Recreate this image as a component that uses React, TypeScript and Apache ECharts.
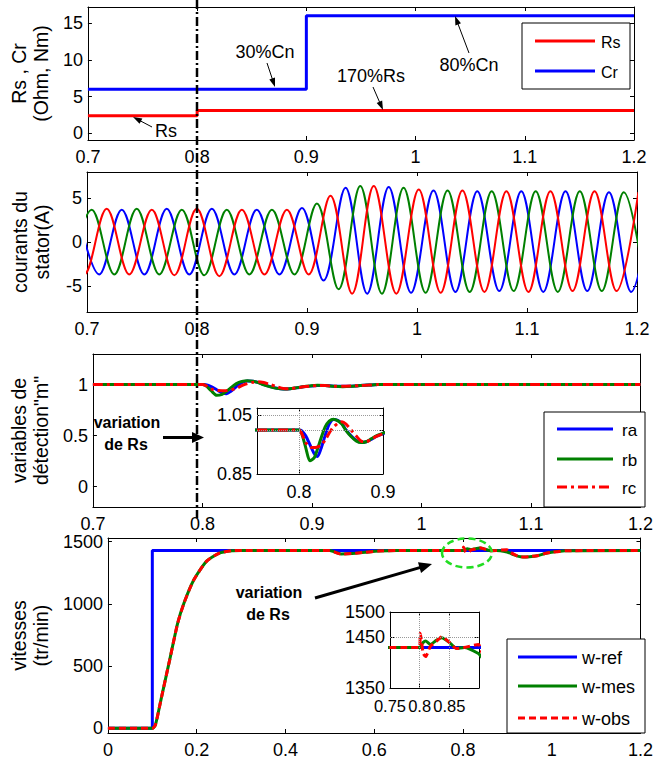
import React, { useEffect, useRef } from "react";
import * as echarts from "echarts";

const FONT = "'Liberation Sans', Arial, Helvetica, sans-serif";

// ---------- Panel 1 : Rs, Cr ----------
const RS_T = [0.7, 0.8, 0.8, 1.2];
const RS_V = [2.4, 2.4, 3.1, 3.1];
const CR_T = [0.7, 0.9, 0.9, 1.2];
const CR_V = [6, 6, 16, 16];

// ---------- Panel 2 : stator currents (extrema: time, value) ----------
const IA: [number, number][] = [
  [0.6907, 3.7], [0.7111, -3.7], [0.7316, 3.7], [0.7521, -3.7], [0.7725, 3.8], [0.793, -3.7],
  [0.8135, 3.8], [0.834, -3.7], [0.8544, 3.7], [0.8749, -3.7], [0.8954, 3.9], [0.915, -4.4],
  [0.935, 6.2], [0.9547, -5.9], [0.9743, 6.3], [0.9946, -5.8], [1.015, 5.9], [1.0349, -5.7],
  [1.0548, 5.8], [1.0748, -5.6], [1.0948, 5.8], [1.1148, -5.7], [1.135, 5.8], [1.1548, -5.6],
  [1.1745, 5.7], [1.1947, -5.7], [1.2145, 5.7],
];
const IB: [number, number][] = [
  [0.6838, -3.7], [0.7043, 3.7], [0.7248, -3.7], [0.7452, 3.8], [0.7657, -3.7], [0.7862, 3.7],
  [0.8066, -3.8], [0.8271, 3.7], [0.8476, -3.7], [0.8681, 3.7], [0.8886, -3.7], [0.909, 4.4],
  [0.9287, -5.4], [0.9484, 6.4], [0.9681, -5.9], [0.9878, 6.2], [1.0078, -5.8], [1.0278, 5.9],
  [1.0479, -5.7], [1.0679, 5.8], [1.0879, -5.6], [1.1079, 5.8], [1.128, -5.7], [1.148, 5.8],
  [1.168, -5.6], [1.188, 5.7], [1.208, -5.6],
];
const IC: [number, number][] = [
  [0.677, 3.7], [0.6975, -3.7], [0.7179, 3.8], [0.7384, -3.7], [0.7589, 3.7], [0.7794, -3.8],
  [0.7998, 3.8], [0.8203, -3.9], [0.8408, 3.7], [0.8613, -3.7], [0.8817, 3.7], [0.9015, -3.7],
  [0.9213, 5.3], [0.941, -5.9], [0.9607, 6.4], [0.9812, -5.9], [1.0016, 6.0], [1.0215, -5.8],
  [1.0413, 5.9], [1.0613, -5.7], [1.0813, 5.8], [1.1013, -5.7], [1.1213, 5.8], [1.1414, -5.6],
  [1.1614, 5.8], [1.1814, -5.6], [1.2013, 5.7],
];

// ---------- Panel 3 : detection variables ----------
const T3 = [0.7, 0.8, 0.803, 0.808, 0.813, 0.818, 0.822, 0.826, 0.831, 0.836, 0.841, 0.846, 0.851, 0.856, 0.862, 0.868,
  0.874, 0.88, 0.886, 0.892, 0.898, 0.905, 0.912, 0.92, 0.928, 0.936, 0.944, 0.952, 0.96, 0.97, 0.98, 1.2];
const RA = [1, 1, 0.998, 0.98, 0.95, 0.92, 0.91, 0.935, 0.98, 1.02, 1.036, 1.033, 1.022, 1.0, 0.98, 0.965,
  0.958, 0.96, 0.968, 0.978, 0.985, 0.992, 0.99, 0.985, 0.983, 0.985, 0.99, 0.995, 1, 1, 1, 1];
const RB = [1, 1, 0.99, 0.94, 0.895, 0.905, 0.935, 0.97, 1.01, 1.03, 1.037, 1.032, 1.02, 0.998, 0.978, 0.963,
  0.957, 0.96, 0.97, 0.98, 0.987, 0.993, 0.99, 0.983, 0.98, 0.983, 0.99, 0.995, 1, 1, 1, 1];
const RC = [1, 1, 0.99, 0.957, 0.942, 0.94, 0.942, 0.948, 0.965, 0.99, 1.01, 1.022, 1.028, 1.02, 1.0, 0.98,
  0.962, 0.96, 0.968, 0.978, 0.985, 0.99, 0.99, 0.985, 0.985, 0.987, 0.99, 0.995, 1, 1, 1, 1];

// ---------- Panel 4 : speeds ----------
const WREF_T = [0, 0.1, 0.1, 1.2];
const WREF_V = [0, 0, 1430, 1430];
const T4 = [0, 0.1, 0.107, 0.121, 0.139, 0.157, 0.171, 0.193, 0.2215, 0.25,
  0.279, 0.3, 0.5, 0.51, 0.525, 0.55, 0.58, 0.61, 0.65, 0.8,
  0.801, 0.806, 0.81, 0.818, 0.828, 0.837, 0.85, 0.862, 0.875, 0.899,
  0.905, 0.915, 0.925, 0.935, 0.95, 0.97, 0.985, 1.0, 1.03, 1.2];
const WOBS = [0, 0, 27, 255, 548, 843, 1003, 1190, 1340, 1407,
  1428, 1430, 1430, 1418, 1400, 1405, 1415, 1425, 1430, 1430,
  1458, 1418, 1412, 1432, 1442, 1451, 1440, 1428, 1430, 1436,
  1420, 1398, 1382, 1378, 1380, 1390, 1405, 1415, 1427, 1430];
const WMES = [0, 0, 27, 255, 548, 843, 1003, 1190, 1340, 1407,
  1428, 1430, 1430, 1418, 1402, 1405, 1415, 1425, 1430, 1430,
  1432, 1440, 1443, 1436, 1444, 1449, 1440, 1428, 1430, 1418,
  1410, 1395, 1382, 1378, 1380, 1390, 1405, 1415, 1427, 1430];

// ---------- Axis tick labels ----------
const X_MAIN = { min: 0.7, max: 1.2, interval: 0.1 };
const X_SPEED = { min: 0, max: 1.2, interval: 0.2 };
const Y1_TICKS = [0, 5, 10, 15];
const Y2_TICKS = [-5, 0, 5];
const Y3_TICKS = [0, 0.5, 1];
const Y4_TICKS = [0, 500, 1000, 1500];
const I3_XTICKS = [0.8, 0.9];
const I3_YTICKS = [0.85, 1, 1.05];
const I4_XTICKS = [0.75, 0.8, 0.85];
const I4_YTICKS = [1350, 1450, 1500];

const zip = (t: number[], v: number[]) => t.map((x, i) => [x, v[i]]);
const fmt = (v: number) => String(Math.round(v * 1e6) / 1e6);

type Box = { left: number; right: number; top: number; bottom: number };
type Spec = { min: number; max: number; interval?: number; ticks?: number[]; name?: string; margin?: number; size?: number };

function buildOption() {
  const grids: any[] = [];
  const xAxes: any[] = [];
  const yAxes: any[] = [];

  const axis = (gi: number, pos: string, s: Spec, labels: boolean, isY: boolean) => {
    const a: any = {
      type: "value",
      gridIndex: gi,
      position: pos,
      min: s.min,
      max: s.max,
      axisLine: { show: true, onZero: false, lineStyle: { color: "#000", width: 1 } },
      axisTick: { show: true, inside: true, length: 4, lineStyle: { color: "#000", width: 1 } },
      axisLabel: {
        show: labels,
        color: "#000",
        fontSize: s.size ?? 18,
        fontFamily: FONT,
        margin: s.margin ?? (isY ? 5 : 8),
        formatter: fmt,
        showMinLabel: true,
        showMaxLabel: true,
        hideOverlap: false,
      },
      splitLine: { show: false },
    };
    if (s.interval !== undefined) a.interval = s.interval;
    if (s.ticks) {
      a.axisTick.customValues = s.ticks;
      a.axisLabel.customValues = s.ticks;
    }
    if (labels && s.name) {
      a.name = s.name;
      a.nameLocation = "middle";
      a.nameRotate = 90;
      a.nameGap = 34;
      a.nameTextStyle = { color: "#000", fontSize: 19.5, fontFamily: FONT, lineHeight: 22 };
    }
    return a;
  };

  const addPanel = (b: Box, xs: Spec, ys: Spec) => {
    const gi = grids.length;
    grids.push({ left: b.left, top: b.top, width: b.right - b.left, height: b.bottom - b.top, show: false });
    xAxes.push(axis(gi, "bottom", xs, true, false));
    xAxes.push(axis(gi, "top", xs, false, false));
    yAxes.push(axis(gi, "left", ys, true, true));
    yAxes.push(axis(gi, "right", ys, false, true));
    return gi;
  };

  const B1 = { left: 87, right: 634, top: 7, bottom: 140 };
  const B2 = { left: 87, right: 637, top: 172, bottom: 312 };
  const B3 = { left: 87, right: 645, top: 354, bottom: 507 };
  const B4 = { left: 87, right: 645, top: 538, bottom: 733 };
  const BI3 = { left: 257, right: 383, top: 408, bottom: 474 };
  const BI4 = { left: 390, right: 479, top: 612, bottom: 688 };

  const g1 = addPanel(B1, X_MAIN, { min: -0.9, max: 17.2, ticks: Y1_TICKS, name: "Rs , Cr\n(Ohm, Nm)" });
  const g2 = addPanel(B2, X_MAIN, { min: -8, max: 8, ticks: Y2_TICKS, name: "courants du\nstator(A)" });
  const g3 = addPanel(B3, X_MAIN, { min: -0.2, max: 1.3, ticks: Y3_TICKS, name: "variables de\ndétection\"m\"" });
  const g4 = addPanel(B4, X_SPEED, { min: -38, max: 1530, ticks: Y4_TICKS, name: "vitesses\n(tr/min)" });
  const gi3 = addPanel(BI3, { min: 0.75, max: 0.9, ticks: I3_XTICKS, margin: 9 }, { min: 0.85, max: 1.075, ticks: I3_YTICKS });
  const gi4 = addPanel(BI4, { min: 0.75, max: 0.9, ticks: I4_XTICKS, margin: 9, size: 16.5 }, { min: 1350, max: 1500, ticks: I4_YTICKS });

  const line = (name: string, data: any[], gi: number, color: string, width: number, type: any = "solid", smooth: any = false, extra: any = {}) => ({
    type: "line",
    name,
    data,
    xAxisIndex: 2 * gi,
    yAxisIndex: 2 * gi,
    symbol: "none",
    showSymbol: false,
    smooth,
    clip: true,
    silent: true,
    lineStyle: { color, width, type },
    itemStyle: { color },
    ...extra,
  });

  const gridML = (xs: number[], ys: number[]) => ({
    markLine: {
      silent: true,
      symbol: ["none", "none"],
      label: { show: false },
      lineStyle: { color: "#999", width: 1, type: "dotted" },
      data: [...xs.map((x) => ({ xAxis: x })), ...ys.map((y) => ({ yAxis: y }))],
      animation: false,
    },
  });

  const DASHDOT = [10, 4, 3, 4];
  const DASH = [7, 4];

  const series: any[] = [
    line("Rs", zip(RS_T, RS_V), g1, "#FF0000", 3),
    line("Cr", zip(CR_T, CR_V), g1, "#0000FF", 3),

    line("ia", IA, g2, "#0000FF", 2, "solid", 0.36),
    line("ib", IB, g2, "#008000", 2, "solid", 0.36),
    line("ic", IC, g2, "#FF0000", 2, "solid", 0.36),

    line("ra", zip(T3, RA), g3, "#0000FF", 3, "solid", 0.25),
    line("rb", zip(T3, RB), g3, "#008000", 3, "solid", 0.25),
    line("rc", zip(T3, RC), g3, "#FF0000", 3, DASHDOT, 0.25),

    line("ra", zip(T3, RA), gi3, "#0000FF", 3, "solid", 0.25, gridML([0.8], [1, 1.05])),
    line("rb", zip(T3, RB), gi3, "#008000", 3, "solid", 0.25),
    line("rc", zip(T3, RC), gi3, "#FF0000", 3, DASHDOT, 0.25),

    line("w-ref", zip(WREF_T, WREF_V), g4, "#0000FF", 3),
    line("w-mes", zip(T4, WMES), g4, "#008000", 3, "solid", 0.2),
    line("w-obs", zip(T4, WOBS), g4, "#FF0000", 3, DASH, 0.2),

    line("w-ref", zip(WREF_T, WREF_V), gi4, "#0000FF", 3, "solid", false, gridML([0.8, 0.85], [1450])),
    line("w-mes", zip(T4, WMES), gi4, "#008000", 3, "solid", 0.2),
    line("w-obs", zip(T4, WOBS), gi4, "#FF0000", 3, DASH, 0.2),
  ];

  // ---------- annotations ----------
  const txt = (text: string, x: number, y: number, size = 18, weight = "normal") => ({
    type: "text",
    x,
    y,
    z: 100,
    style: { text, fill: "#000", fontSize: size, fontFamily: FONT, fontWeight: weight, align: "center", verticalAlign: "middle" },
  });
  const arrow = (x1: number, y1: number, x2: number, y2: number, lw: number, hl: number, hw: number) => {
    const dx = x2 - x1, dy = y2 - y1;
    const L = Math.hypot(dx, dy);
    const ux = dx / L, uy = dy / L;
    const bx = x2 - ux * hl, by = y2 - uy * hl;
    const px = -uy, py = ux;
    return [
      { type: "line", z: 100, shape: { x1, y1, x2: bx + ux * 2, y2: by + uy * 2 }, style: { stroke: "#000", lineWidth: lw } },
      {
        type: "polygon",
        z: 100,
        shape: { points: [[x2, y2], [bx + (px * hw) / 2, by + (py * hw) / 2], [bx - (px * hw) / 2, by - (py * hw) / 2]] },
        style: { fill: "#000" },
      },
    ];
  };
  const legendLine = (x1: number, x2: number, y: number, color: string, type: any) => ({
    type: "line",
    z: 101,
    shape: { x1, y1: y, x2, y2: y },
    style: { stroke: color, lineWidth: 3, lineDash: type === "solid" ? null : type },
  });
  const legendText = (text: string, x: number, y: number, size: number) => ({
    type: "text",
    x,
    y,
    z: 101,
    style: { text, fill: "#000", fontSize: size, fontFamily: FONT, align: "left", verticalAlign: "middle" },
  });
  const box = (x: number, y: number, w: number, h: number) => ({
    type: "rect",
    z: 99,
    shape: { x, y, width: w, height: h },
    style: { fill: "#fff", stroke: "#000", lineWidth: 1 },
  });

  const elements: any[] = [
    // vertical dash-dot marker
    { type: "line", z: 110, shape: { x1: 197, y1: 0, x2: 197, y2: 518 }, style: { stroke: "#000", lineWidth: 2.5, lineDash: [9, 3, 2, 3] } },
    // panel 1 notes
    txt("30%Cn", 265, 52),
    ...arrow(267, 63, 275, 87, 1, 9, 6),
    txt("Rs", 166, 131),
    ...arrow(152, 127, 133, 117, 1, 9, 6),
    txt("170%Rs", 371, 76),
    ...arrow(373, 87, 383, 110, 1, 9, 6),
    txt("80%Cn", 469, 65),
    ...arrow(469, 53, 455, 16, 1, 9, 6),
    // panel 1 legend
    box(522, 23, 108, 66),
    legendLine(535, 595, 41, "#FF0000", "solid"),
    legendText("Rs", 601, 42, 16),
    legendLine(535, 595, 71, "#0000FF", "solid"),
    legendText("Cr", 601, 72, 16),
    // panel 3 notes
    txt("variation", 127, 422, 16, "bold"),
    txt("de Rs", 126, 444, 16, "bold"),
    ...arrow(163, 437.5, 204, 437.5, 3, 12, 11),
    // panel 3 legend
    box(544, 412, 101, 95),
    legendLine(557, 613, 429, "#0000FF", "solid"),
    legendText("ra", 622, 430, 17),
    legendLine(557, 613, 459, "#008000", "solid"),
    legendText("rb", 622, 460, 17),
    legendLine(557, 613, 487, "#FF0000", [10, 4, 3, 4]),
    legendText("rc", 622, 488, 17),
    // panel 4 notes
    txt("variation", 269, 592, 16, "bold"),
    txt("de Rs", 268, 614, 16, "bold"),
    ...arrow(315, 598, 432, 564, 3, 13, 11),
    {
      type: "ellipse",
      z: 100,
      shape: { cx: 467, cy: 553, rx: 25, ry: 14.5 },
      style: { fill: "none", stroke: "#22DD22", lineWidth: 2.5, lineDash: [7, 4] },
    },
    // panel 4 legend
    box(507, 639, 138, 94),
    legendLine(518, 577, 657, "#0000FF", "solid"),
    legendText("w-ref", 582, 658, 18),
    legendLine(518, 577, 686, "#008000", "solid"),
    legendText("w-mes", 582, 687, 18),
    legendLine(518, 577, 718, "#FF0000", [7, 4]),
    legendText("w-obs", 582, 719, 18),
  ];

  return {
    animation: false,
    backgroundColor: "#fff",
    textStyle: { fontFamily: FONT },
    grid: grids,
    xAxis: xAxes,
    yAxis: yAxes,
    series,
    graphic: { elements },
  };
}

export default function App() {
  const ref = useRef<HTMLDivElement>(null);
  useEffect(() => {
    document.body.style.margin = "0";
    if (!ref.current) return;
    const chart = echarts.init(ref.current, undefined, { renderer: "svg" });
    chart.setOption(buildOption() as any);
    return () => chart.dispose();
  }, []);
  return <div ref={ref} style={{ width: 656, height: 767 }} />;
}
